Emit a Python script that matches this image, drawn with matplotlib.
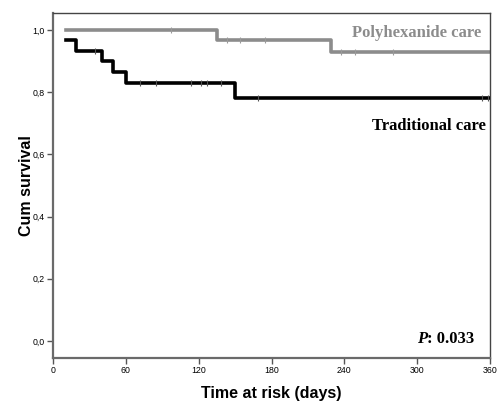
import matplotlib.pyplot as plt

# Kaplan-Meier steps
poly_t = [11, 135, 229, 360]
poly_s = [1.0, 0.967, 0.928, 0.928]
poly_cens_t = [97, 143, 154, 175, 237, 249, 280]
poly_cens_s = [1.0, 0.967, 0.967, 0.967, 0.928, 0.928, 0.928]

trad_t = [11, 19, 40, 49.5, 60, 150, 360]
trad_s = [0.967, 0.933, 0.900, 0.866, 0.830, 0.783, 0.783]
trad_cens_t = [35, 72, 85, 114, 122, 127, 138, 169, 353, 358]
trad_cens_s = [0.933, 0.830, 0.830, 0.830, 0.830, 0.830, 0.830, 0.783, 0.783, 0.783]

xticks = [0, 60, 120, 180, 240, 300, 360]
yticks = [0.0, 0.2, 0.4, 0.6, 0.8, 1.0]
ytick_labels = ['0,0', '0,2', '0,4', '0,6', '0,8', '1,0']

fig = plt.figure(figsize=(4.98, 4.01), dpi=100)
ax = fig.add_axes([53/498, 1 - 358/401, 437/498, 345/401])

ax.step(poly_t, poly_s, where='post', color='#8c8c8c', lw=2.6, zorder=2)
ax.step(trad_t, trad_s, where='post', color='black', lw=2.6, zorder=3)
ax.plot(poly_cens_t, poly_cens_s, ls='none', marker='|', ms=5, mew=0.8, color='#9a9a9a', zorder=4)
ax.plot(trad_cens_t, trad_cens_s, ls='none', marker='|', ms=5, mew=0.8, color='#555555', zorder=4)

ax.set_xlim(0, 360)
ax.set_ylim(-0.055, 1.055)
ax.set_xticks(xticks)
ax.set_xticklabels([str(x) for x in xticks], fontsize=6.3, family='Liberation Sans')
ax.set_yticks(yticks)
ax.set_yticklabels(ytick_labels, fontsize=6.3, family='Liberation Sans')
ax.tick_params(direction='out', length=4, width=1, color='#555555', pad=2)

for side in ['left', 'bottom']:
    ax.spines[side].set_color('#6a6a6a')
    ax.spines[side].set_linewidth(1.6)
for side in ['top', 'right']:
    ax.spines[side].set_color('#444444')
    ax.spines[side].set_linewidth(1.0)

ax.set_xlabel('Time at risk (days)', fontsize=11.5, fontweight='bold',
              family='Liberation Sans', labelpad=8)
ax.set_ylabel('Cum survival', fontsize=11.5, fontweight='bold',
              family='Liberation Sans', labelpad=-1)

ax.text(353, 0.99, 'Polyhexanide care', ha='right', va='center', color='#8c8c8c',
        fontsize=12, fontweight='bold', family='Liberation Serif')
ax.text(357, 0.69, 'Traditional care', ha='right', va='center', color='black',
        fontsize=12, fontweight='bold', family='Liberation Serif')
pv = ax.text(347, 0.005, ': 0.033', ha='right', va='center', fontsize=12,
             fontweight='bold', family='Liberation Serif')
ax.annotate('P', xy=(0, 0.5), xycoords=pv, ha='right', va='center', fontsize=12,
            fontweight='bold', style='italic', family='Liberation Serif')

fig.savefig('out.png', dpi=100)
